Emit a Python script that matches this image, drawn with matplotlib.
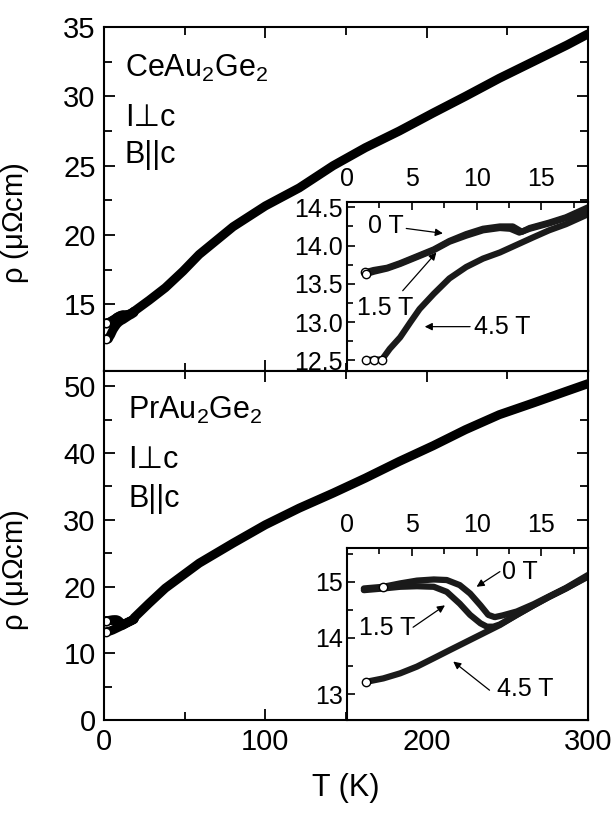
import matplotlib
matplotlib.use("Agg")
import matplotlib.pyplot as plt
from matplotlib.ticker import MultipleLocator, FormatStrFormatter

plt.rcParams['font.family'] = ['Liberation Sans', 'DejaVu Sans']
plt.rcParams['mathtext.fontset'] = 'custom'
plt.rcParams['mathtext.rm'] = 'Liberation Sans'
plt.rcParams['mathtext.it'] = 'Liberation Sans'
plt.rcParams['axes.linewidth'] = 1.5

# ---- CeAu2Ge2, main panel (T > ~18 K) ----
ce_T = [18.6, 28, 38, 49, 59, 80, 100, 121, 142, 162, 183, 204, 224, 245, 266, 287, 300]
ce_rho = [14.5, 15.3, 16.2, 17.4, 18.6, 20.6, 22.1, 23.4, 25.0, 26.3, 27.5, 28.8,
          30.0, 31.3, 32.5, 33.7, 34.5]

# ---- CeAu2Ge2, inset (low T, three fields) ----
ce_t0 = [1.4, 2.05, 3.1, 4.1, 5.4, 6.7, 7.9, 9.2, 10.5, 11.8, 12.8, 13.5, 14.1, 15.6, 16.9, 18.6]
ce_r0 = [13.65, 13.68, 13.71, 13.77, 13.86, 13.95, 14.06, 14.15, 14.22, 14.25, 14.25,
         14.18, 14.23, 14.30, 14.37, 14.50]
ce_t15 = [1.5, 2.1, 3.1, 4.1, 5.4, 6.7, 7.9, 9.2, 10.5, 11.8, 12.6, 13.3, 14.1, 15.6, 16.9, 18.6]
ce_r15 = [13.63, 13.66, 13.70, 13.76, 13.85, 13.94, 14.05, 14.13, 14.20, 14.23, 14.22,
          14.17, 14.22, 14.29, 14.36, 14.48]
ce_t45 = [1.5, 2.05, 2.7, 3.3, 4.1, 4.9, 5.6, 6.7, 7.9, 9.2, 10.5, 11.8, 13.1, 14.4, 15.6, 16.9, 18.6]
ce_r45 = [12.50, 12.51, 12.51, 12.65, 12.80, 13.00, 13.17, 13.37, 13.57, 13.72, 13.83,
          13.91, 14.01, 14.11, 14.20, 14.28, 14.41]

# ---- PrAu2Ge2, main panel ----
pr_T = [18.6, 28, 38, 59, 80, 100, 121, 142, 162, 183, 204, 224, 245, 266, 287, 300]
pr_rho = [15.3, 17.5, 19.75, 23.5, 26.5, 29.25, 31.75, 34.0, 36.25, 38.75, 41.1, 43.5,
          45.75, 47.5, 49.3, 50.4]

# ---- PrAu2Ge2, inset ----
pr_t0 = [1.3, 2.8, 4.1, 5.4, 6.7, 7.7, 8.7, 9.5, 10.3, 10.9, 11.4, 12.0, 13.1, 14.4, 15.6, 16.9, 18.6]
pr_r0 = [14.88, 14.91, 14.97, 15.02, 15.04, 15.03, 14.94, 14.79, 14.58, 14.41, 14.37,
         14.40, 14.47, 14.60, 14.74, 14.89, 15.12]
pr_t15 = [1.3, 2.8, 4.1, 5.4, 6.7, 7.7, 8.7, 9.5, 10.3, 10.8, 11.3, 11.8, 13.1, 14.4, 15.6, 16.9, 18.6]
pr_r15 = [14.85, 14.88, 14.91, 14.92, 14.91, 14.82, 14.61, 14.41, 14.26, 14.20, 14.20,
          14.24, 14.41, 14.58, 14.73, 14.88, 15.10]
pr_t45 = [1.5, 2.8, 4.1, 5.4, 6.7, 7.9, 9.2, 10.5, 11.8, 13.1, 14.4, 15.6, 16.9, 18.6]
pr_r45 = [13.22, 13.28, 13.37, 13.49, 13.64, 13.78, 13.93, 14.08, 14.23, 14.41, 14.58,
          14.73, 14.88, 15.09]

field_labels = ['0 T', '1.5 T', '4.5 T']

W, H = 616, 814
fig = plt.figure(figsize=(W / 100, H / 100), dpi=100)

def frac(x0, y_top, x1, y_bot):
    return [x0 / W, 1 - y_bot / H, (x1 - x0) / W, (y_bot - y_top) / H]

ax_top = fig.add_axes(frac(104, 27, 588, 371))
ax_bot = fig.add_axes(frac(104, 371, 588, 720))
in_top = fig.add_axes(frac(347, 202, 588, 371))
in_bot = fig.add_axes(frac(347, 548, 588, 720))

band = dict(color='black', lw=6.5, solid_capstyle='round', solid_joinstyle='round')
thin = dict(color='#1a1a1a', lw=4.5, solid_capstyle='round', solid_joinstyle='round')
circ = dict(ls='none', marker='o', ms=6, mfc='white', mec='black', mew=1.0)

MAIN_FS = 21
INSET_FS = 18


def style_main(ax, ymin, ymax, ymaj, ymin_step):
    ax.set_xlim(0, 300)
    ax.set_ylim(ymin, ymax)
    ax.xaxis.set_major_locator(MultipleLocator(100))
    ax.xaxis.set_minor_locator(MultipleLocator(50))
    ax.yaxis.set_major_locator(MultipleLocator(ymaj))
    ax.yaxis.set_minor_locator(MultipleLocator(ymin_step))
    ax.tick_params(which='both', direction='in', top=True, right=True, width=1.3,
                   labelsize=MAIN_FS, pad=6)
    ax.tick_params(which='major', length=8)
    ax.tick_params(which='minor', length=6)
    ax.set_ylabel(r'$\rho$ ($\mu\Omega$cm)', fontsize=MAIN_FS)
    ax.yaxis.set_label_coords(-0.15, 0.43)


def style_inset(ax, ylo, yhi, ymaj, ymin_step, fmt):
    ax.set_xlim(0, 18.6)
    ax.set_ylim(ylo, yhi)
    ax.xaxis.set_major_locator(MultipleLocator(5))
    ax.xaxis.set_minor_locator(MultipleLocator(2.5))
    ax.yaxis.set_major_locator(MultipleLocator(ymaj))
    ax.yaxis.set_minor_locator(MultipleLocator(ymin_step))
    ax.yaxis.set_major_formatter(FormatStrFormatter(fmt))
    ax.xaxis.tick_top()
    ax.tick_params(which='both', direction='in', top=True, bottom=False,
                   left=True, right=False, width=1.2, labelsize=INSET_FS)
    ax.tick_params(axis='x', which='both', labeltop=True, labelbottom=False, pad=8)
    ax.tick_params(axis='y', pad=3)
    ax.tick_params(which='major', length=6)
    ax.tick_params(which='minor', length=4)


# ---- top panel ----
ax_top.plot(ce_T, ce_rho, **band)
for t, r in [(ce_t0, ce_r0), (ce_t15, ce_r15), (ce_t45, ce_r45)]:
    ax_top.plot(t, r, **band)
    ax_top.plot(t[:1], r[:1], **circ)
style_main(ax_top, 10.2, 35, 5, 2.5)
ax_top.tick_params(axis='x', labelbottom=False)
ax_top.text(0.043, 0.856, 'CeAu$_2$Ge$_2$', transform=ax_top.transAxes, fontsize=22, va='baseline')
ax_top.text(0.043, 0.712, 'I\u22a5c', transform=ax_top.transAxes, fontsize=22, va='baseline')
ax_top.text(0.043, 0.605, 'B||c', transform=ax_top.transAxes, fontsize=22, va='baseline')

# ---- bottom panel ----
ax_bot.plot(pr_T, pr_rho, **band)
for t, r in [(pr_t0, pr_r0), (pr_t15, pr_r15), (pr_t45, pr_r45)]:
    ax_bot.plot(t, r, **band)
    ax_bot.plot(t[:1], r[:1], **circ)
style_main(ax_bot, 0, 52.3, 10, 5)
ax_bot.set_xlabel('T (K)', fontsize=22, labelpad=12)
ax_bot.text(0.05, 0.864, 'PrAu$_2$Ge$_2$', transform=ax_bot.transAxes, fontsize=22, va='baseline')
ax_bot.text(0.05, 0.721, 'I\u22a5c', transform=ax_bot.transAxes, fontsize=22, va='baseline')
ax_bot.text(0.05, 0.611, 'B||c', transform=ax_bot.transAxes, fontsize=22, va='baseline')

arrow = dict(arrowstyle='-|>', color='black', lw=0.9, mutation_scale=11, shrinkA=0, shrinkB=0)

# ---- top inset ----
for t, r in [(ce_t0, ce_r0), (ce_t15, ce_r15), (ce_t45, ce_r45)]:
    in_top.plot(t, r, **thin)
in_top.plot(ce_t0[:1], ce_r0[:1], **circ)
in_top.plot(ce_t15[:1], ce_r15[:1], **circ)
in_top.plot(ce_t45[:3], ce_r45[:3], **circ)
style_inset(in_top, 12.36, 14.57, 0.5, 0.25, '%.1f')
in_top.annotate(field_labels[0], xy=(7.4, 14.16), xytext=(1.6, 14.26), fontsize=INSET_FS,
                va='center', ha='left', arrowprops=arrow)
in_top.annotate('', xy=(6.9, 13.91), xytext=(4.3, 13.41), arrowprops=arrow)
in_top.text(0.8, 13.18, field_labels[1], fontsize=INSET_FS, va='center', ha='left')
in_top.annotate('', xy=(6.0, 12.94), xytext=(9.5, 12.94), arrowprops=arrow)
in_top.text(9.8, 12.94, field_labels[2], fontsize=INSET_FS, va='center', ha='left')

# ---- bottom inset ----
for t, r in [(pr_t0, pr_r0), (pr_t15, pr_r15), (pr_t45, pr_r45)]:
    in_bot.plot(t, r, **thin)
in_bot.plot(pr_t0[1:2], pr_r0[1:2], **circ)
in_bot.plot(pr_t45[:1], pr_r45[:1], **circ)
style_inset(in_bot, 12.54, 15.6, 1, 0.5, '%d')
in_bot.annotate('', xy=(10.0, 14.91), xytext=(11.8, 15.18), arrowprops=arrow)
in_bot.text(12.0, 15.18, field_labels[0], fontsize=INSET_FS, va='center', ha='left')
in_bot.annotate('', xy=(7.56, 14.58), xytext=(5.1, 14.19), arrowprops=arrow)
in_bot.text(0.9, 14.18, field_labels[1], fontsize=INSET_FS, va='center', ha='left')
in_bot.annotate('', xy=(8.2, 13.58), xytext=(11.0, 13.07), arrowprops=arrow)
in_bot.text(11.6, 13.10, field_labels[2], fontsize=INSET_FS, va='center', ha='left')

fig.savefig('out.png', dpi=100)
